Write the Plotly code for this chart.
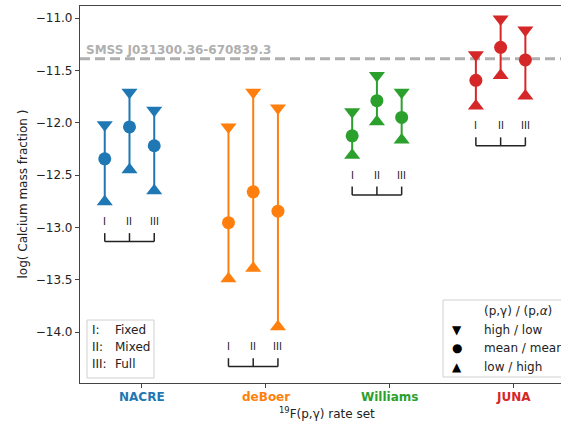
import plotly.graph_objects as go

# Rate sets on the x axis and their colours
rate_sets = ["NACRE", "deBoer", "Williams", "JUNA"]
colors = ["#1f77b4", "#ff7f0e", "#2ca02c", "#d62728"]

# Variants within each rate set: I (Fixed), II (Mixed), III (Full)
variants = ["I", "II", "III"]
variant_names = ["Fixed", "Mixed", "Full"]
variant_offsets = [-0.3, -0.1, 0.1]

# log(Ca mass fraction) for (p,g)/(p,a) = high/low, mean/mean, low/high
high_vals = {
    "NACRE":    [-12.02, -11.71, -11.88],
    "deBoer":   [-12.04, -11.71, -11.86],
    "Williams": [-11.895, -11.55, -11.71],
    "JUNA":     [-11.35, -11.01, -11.115],
}
mean_vals = {
    "NACRE":    [-12.345, -12.04, -12.22],
    "deBoer":   [-12.955, -12.66, -12.845],
    "Williams": [-12.125, -11.79, -11.95],
    "JUNA":     [-11.595, -11.28, -11.40],
}
low_vals = {
    "NACRE":    [-12.755, -12.45, -12.65],
    "deBoer":   [-13.49, -13.39, -13.95],
    "Williams": [-12.31, -11.99, -12.165],
    "JUNA":     [-11.84, -11.55, -11.745],
}

# Observed star abundance
star_name = "SMSS J031300.36-670839.3"
star_value = -11.39

y_ticks = [-11.0, -11.5, -12.0, -12.5, -13.0, -13.5, -14.0]
y_range = [-14.487, -10.885]
x_range = [-0.5, 3.388]

fig = go.Figure()
shapes = []
annotations = []

for i, (name, col) in enumerate(zip(rate_sets, colors)):
    xs = [i + o for o in variant_offsets]
    hi, mu, lo = high_vals[name], mean_vals[name], low_vals[name]
    # vertical range lines
    for x, h, l in zip(xs, hi, lo):
        fig.add_trace(go.Scatter(x=[x, x], y=[l, h], mode="lines",
                                 line=dict(color=col, width=2),
                                 hoverinfo="skip", showlegend=False))
    fig.add_trace(go.Scatter(x=xs, y=hi, mode="markers", showlegend=False,
                             marker=dict(symbol="triangle-down", size=14, color=col)))
    fig.add_trace(go.Scatter(x=xs, y=mu, mode="markers", showlegend=False,
                             marker=dict(symbol="circle", size=13, color=col)))
    fig.add_trace(go.Scatter(x=xs, y=lo, mode="markers", showlegend=False,
                             marker=dict(symbol="triangle-up", size=14, color=col)))

    # roman-numeral labels and bracket under each group
    y_min = min(lo)
    y_lab = y_min - 0.19
    y_top = y_min - 0.30
    y_bot = y_min - 0.38
    for x, v in zip(xs, variants):
        annotations.append(dict(x=x, y=y_lab, xref="x", yref="y", text=v,
                                showarrow=False, xanchor="center", yanchor="middle",
                                font=dict(size=10, color="#222")))
        shapes.append(dict(type="line", xref="x", yref="y", x0=x, x1=x,
                           y0=y_bot, y1=y_top, line=dict(color="#222", width=1.5)))
    shapes.append(dict(type="line", xref="x", yref="y", x0=xs[0], x1=xs[-1],
                       y0=y_bot, y1=y_bot, line=dict(color="#222", width=1.5)))

    # coloured, bold category label
    annotations.append(dict(x=i, y=0, xref="x", yref="paper", text=f"<b>{name}</b>",
                            showarrow=False, xanchor="center", yanchor="middle",
                            yshift=-14, font=dict(size=12, color=col)))

# observed value line
shapes.append(dict(type="line", xref="paper", yref="y", x0=0, x1=1,
                   y0=star_value, y1=star_value, layer="below",
                   line=dict(color="#b0b0b0", width=3, dash="10px,5px")))
annotations.append(dict(x=0, y=star_value, xref="paper", yref="y",
                        text=f"<b>{star_name}</b>", showarrow=False,
                        xanchor="left", yanchor="bottom", xshift=4, yshift=0,
                        font=dict(size=12, color="#b0b0b0")))


def px_to_paper(px, py):
    """Pixel position in the figure to paper coordinates of the plot area."""
    return (px - 80) / (561 - 80), (383 - py) / 377


# legend box for the variant names
x0, y0 = px_to_paper(87, 378)
x1, y1 = px_to_paper(154, 320)
shapes.append(dict(type="rect", xref="paper", yref="paper", x0=x0, x1=x1, y0=y0, y1=y1,
                   line=dict(color="#d0d0d0", width=1), fillcolor="rgba(255,255,255,0.8)"))
for k, (v, nm) in enumerate(zip(variants, variant_names)):
    py = 330 + 17 * k
    ax, ay = px_to_paper(90, py)
    annotations.append(dict(x=ax, y=ay, xref="paper", yref="paper", text=f"{v}:",
                            showarrow=False, xanchor="left", yanchor="middle",
                            font=dict(size=12, color="#222")))
    bx, _ = px_to_paper(113, py)
    annotations.append(dict(x=bx, y=ay, xref="paper", yref="paper", text=nm,
                            showarrow=False, xanchor="left", yanchor="middle",
                            font=dict(size=12, color="#222")))

# legend box for the marker meanings (runs past the right edge of the figure)
x0, y0 = px_to_paper(443, 377)
x1, y1 = px_to_paper(600, 300)
shapes.append(dict(type="rect", xref="paper", yref="paper", x0=x0, x1=x1, y0=y0, y1=y1,
                   line=dict(color="#d0d0d0", width=1), fillcolor="rgba(255,255,255,0.8)"))
marker_rows = [("", "(p,γ) / (p,<i>α</i>)"), ("▼", "high / low"),
               ("●", "mean / mean"), ("▲", "low / high")]
for k, (sym, label) in enumerate(marker_rows):
    py = 311 + 18.5 * k
    mx, my = px_to_paper(457, py)
    if sym:
        annotations.append(dict(x=mx, y=my, xref="paper", yref="paper", text=sym,
                                showarrow=False, xanchor="center", yanchor="middle",
                                font=dict(size=12, color="black")))
    tx, _ = px_to_paper(482, py)
    annotations.append(dict(x=tx, y=my, xref="paper", yref="paper", text=label,
                            showarrow=False, xanchor="left", yanchor="middle",
                            font=dict(size=12, color="#222")))

# axis titles
annotations.append(dict(x=1.5, y=0, xref="x", yref="paper",
                        text="<sup>19</sup>F(p,γ) rate set", showarrow=False,
                        xanchor="center", yanchor="middle", yshift=-30,
                        font=dict(size=12, color="#222")))
annotations.append(dict(x=0, y=0.5, xref="paper", yref="paper",
                        text="log( Calcium mass fraction )", showarrow=False,
                        textangle=-90, xanchor="center", yanchor="middle", xshift=-58,
                        font=dict(size=12, color="#222")))

fig.update_layout(
    width=561, height=425,
    margin=dict(l=80, r=0, t=6, b=42),
    paper_bgcolor="white", plot_bgcolor="white",
    font=dict(family="DejaVu Sans", size=12, color="#222"),
    shapes=shapes, annotations=annotations,
    showlegend=False,
)
fig.update_xaxes(range=x_range, tickvals=list(range(len(rate_sets))),
                 showticklabels=False, ticks="outside", ticklen=4,
                 tickcolor="#444", showgrid=False, zeroline=False,
                 showline=True, linecolor="#444", linewidth=1.2, mirror=True)
fig.update_yaxes(range=y_range, tickvals=y_ticks,
                 ticktext=[f"−{abs(v):.1f}" for v in y_ticks],
                 ticks="outside", ticklen=4, tickcolor="#444",
                 tickfont=dict(size=12, color="#222"),
                 showgrid=False, zeroline=False,
                 showline=True, linecolor="#444", linewidth=1.2)

fig.write_html("out.html")
